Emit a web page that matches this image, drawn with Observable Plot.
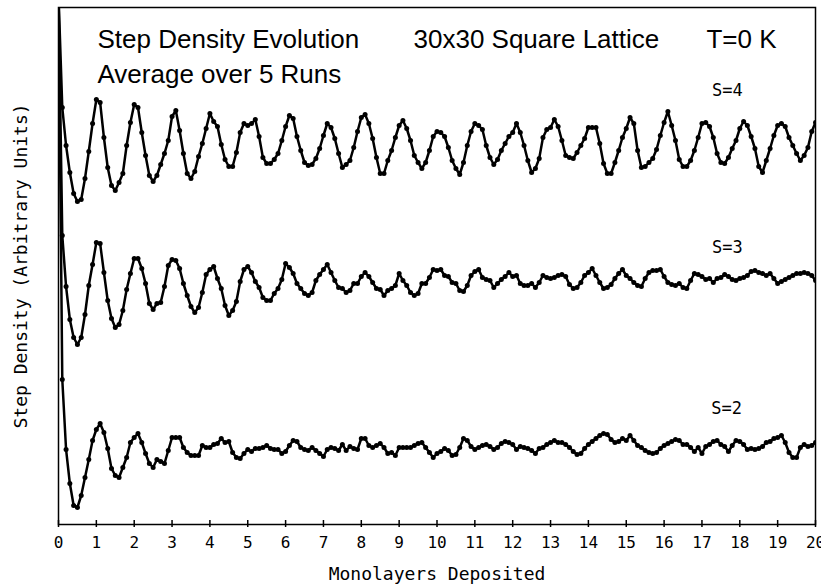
<!DOCTYPE html>
<html><head><meta charset="utf-8">
<script src="https://cdn.jsdelivr.net/npm/d3@7"></script>
<script src="https://cdn.jsdelivr.net/npm/@observablehq/plot@0.6"></script>
<style>body{margin:0;background:#fff}</style>
</head><body><div id="chart"></div>
<script>
// Monolayers deposited: sampled every 0.1 ML from 0 to 20
const monolayers = d3.range(0, 201).map(i => i / 10);
const xTicks = [0,1,2,3,4,5,6,7,8,9,10,11,12,13,14,15,16,17,18,19,20];

// Step density (arbitrary units); t=0 values run off the top
const densityS4 = [530,
 417,379,352,331,323,325,346,373,401,425, 422,387,357,339,334,342,351,379,402,420,
 417,392,369,349,343,349,360,371,384,408, 414,394,371,351,346,353,368,381,396,411,
 403,398,380,365,358,358,372,392,401,399, 401,405,388,367,361,361,365,371,384,398,
 409,406,388,374,362,359,360,366,376,389, 401,397,386,371,357,360,364,377,393,407,
 410,401,386,367,351,351,364,374,387,399, 404,396,384,369,362,356,362,374,388,393,
 392,388,377,364,356,350,362,379,393,401, 399,395,379,367,360,365,374,381,388,392,
 401,392,379,364,352,356,366,387,395,397, 405,398,384,369,367,366,372,379,386,397,
 397,397,381,361,351,351,362,374,387,396, 407,401,374,357,358,362,366,375,389,402,
 413,399,384,365,358,358,364,374,387,401, 402,398,387,371,362,361,367,376,384,396,
 403,399,388,376,358,352,364,376,389,399, 401,398,387,379,371,364,369,377,393,402];

const densityS3 = [530,
 289,238,205,187,180,187,210,239,260,282, 281,252,224,206,197,200,214,235,251,266,
 266,256,241,221,215,221,222,238,259,265, 264,256,241,229,218,212,217,232,250,255,
 258,246,236,219,209,214,223,243,255,258, 252,243,237,227,224,224,231,236,245,261,
 257,251,241,236,231,229,232,244,250,255, 260,252,244,237,236,232,234,241,241,248,
 252,248,242,236,235,229,234,236,239,251, 244,239,232,229,231,241,241,247,255,254,
 255,249,248,242,241,234,233,239,249,253, 255,247,245,244,237,241,245,248,252,248,
 249,241,239,239,241,237,242,249,247,246, 247,249,250,248,240,236,237,242,249,252,
 256,249,242,236,237,240,246,251,255,249, 246,242,239,238,246,252,254,254,255,248,
 242,240,239,241,237,236,244,251,250,248, 245,246,242,246,247,250,248,245,244,246,
 247,249,253,254,252,251,249,251,246,241, 243,245,247,249,251,251,252,251,249,244];

const densityS2 = [530,
 145,75,41,19,17,29,47,65,84,95, 101,92,76,56,49,47,57,67,82,87,
 91,82,71,61,57,65,63,61,74,87, 87,87,77,72,69,69,69,79,77,77,
 80,81,86,82,83,72,67,66,71,75, 73,76,76,77,79,76,75,75,71,73,
 79,84,83,77,75,74,77,74,71,68, 75,77,76,74,80,74,78,76,75,86,
 86,79,77,79,81,77,71,72,69,77, 77,77,77,79,81,82,77,72,67,71,
 73,76,74,69,70,77,86,84,78,75, 77,79,80,78,75,77,81,83,82,80,
 75,78,77,76,74,71,76,77,80,82, 84,82,82,80,77,73,70,71,76,80,
 83,86,89,91,90,85,82,83,86,84, 89,84,79,77,74,72,71,72,76,79,
 81,83,85,84,80,80,77,73,77,71, 78,80,83,84,80,78,73,79,84,83,
 80,75,76,75,76,78,82,83,86,87, 89,82,72,67,67,77,80,78,79,82];

const seriesNames = ["S=4", "S=3", "S=2"];
const labelX = [17.67, 17.67, 17.65];
const labelY = [434, 277, 116];

const titleLine1a = "Step Density Evolution";
const titleLine1b = "30x30 Square Lattice";
const titleLine1c = "T=0 K";
const titleLine2 = "Average over 5 Runs";
const xLabel = "Monolayers Deposited";
const yLabel = "Step Density (Arbitrary Units)";

const allSeries = [densityS4, densityS3, densityS2];
const rows = [];
allSeries.forEach((vals, k) => vals.forEach((v, i) => rows.push({x: monolayers[i], y: v, series: seriesNames[k]})));
const labels = seriesNames.map((s, k) => ({name: s, x: labelX[k], y: labelY[k]}));

const mono = "DejaVu Sans Mono";
const sans = "Liberation Sans, Arial, sans-serif";
const plotH = 586 - 7 - 62;

const chart = Plot.plot({
  width: 821, height: 586,
  marginLeft: 58, marginRight: 6, marginTop: 7, marginBottom: 62,
  x: {domain: [0, 20], label: null},
  y: {domain: [0, 517], axis: null},
  style: {background: "white", color: "black"},
  marks: [
    Plot.frame({stroke: "black", strokeWidth: 1.5}),
    Plot.line(rows, {x: "x", y: "y", z: "series", stroke: "black", strokeWidth: 2.5, clip: true}),
    Plot.dot(rows, {x: "x", y: "y", r: 2.5, fill: "black", stroke: null, clip: true}),
    Plot.ruleX(xTicks, {x: d => d, insetTop: plotH - 4, insetBottom: -3, stroke: "black", strokeWidth: 1.5}),
    Plot.axisX(xTicks, {tickSize: 0, tickPadding: 12, fontSize: 16, fontFamily: mono, label: null}),
    Plot.text(labels, {x: "x", y: "y", text: "name", fontSize: 17, fontFamily: mono, lineAnchor: "middle"}),
    Plot.text([titleLine1a], {frameAnchor: "top-left", dx: 39, dy: 40, lineAnchor: "bottom", textAnchor: "start", fontSize: 26, fontFamily: sans}),
    Plot.text([titleLine1b], {frameAnchor: "top-left", dx: 355, dy: 40, lineAnchor: "bottom", textAnchor: "start", fontSize: 26, fontFamily: sans}),
    Plot.text([titleLine1c], {frameAnchor: "top-right", dx: -39, dy: 40, lineAnchor: "bottom", textAnchor: "end", fontSize: 26, fontFamily: sans, letterSpacing: 2}),
    Plot.text([titleLine2], {frameAnchor: "top-left", dx: 39, dy: 75, lineAnchor: "bottom", textAnchor: "start", fontSize: 26, fontFamily: sans}),
    Plot.text([xLabel], {frameAnchor: "bottom", dy: 50, lineAnchor: "middle", fontSize: 18, fontFamily: mono}),
    Plot.text([yLabel], {frameAnchor: "left", dx: -37, rotate: -90, textAnchor: "middle", lineAnchor: "middle", fontSize: 18, fontFamily: mono})
  ]
});
document.getElementById("chart").appendChild(chart);
</script>
</body></html>
